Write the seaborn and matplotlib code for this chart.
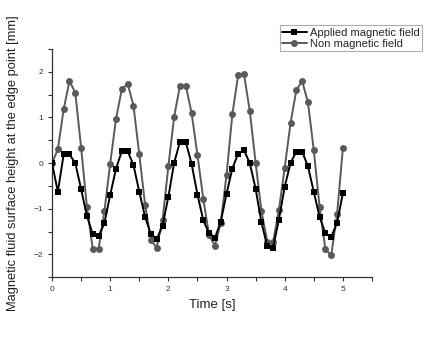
import numpy as np
import pandas as pd
import matplotlib
matplotlib.use('Agg')
import matplotlib.pyplot as plt
import seaborn as sns
from matplotlib.ticker import MultipleLocator

# time samples [s]
time = [0.0, 0.1, 0.2, 0.3, 0.4, 0.5, 0.6, 0.7, 0.8, 0.9,
        1.0, 1.1, 1.2, 1.3, 1.4, 1.5, 1.6, 1.7, 1.8, 1.9,
        2.0, 2.1, 2.2, 2.3, 2.4, 2.5, 2.6, 2.7, 2.8, 2.9,
        3.0, 3.1, 3.2, 3.3, 3.4, 3.5, 3.6, 3.7, 3.8, 3.9,
        4.0, 4.1, 4.2, 4.3, 4.4, 4.5, 4.6, 4.7, 4.8, 4.9, 5.0]

# surface height [mm] with magnetic field applied
applied = [0.0, -0.63, 0.19, 0.19, 0.0, -0.57, -1.16, -1.56, -1.60, -1.32,
           -0.70, -0.12, 0.26, 0.26, -0.04, -0.63, -1.18, -1.56, -1.67, -1.37,
           -0.74, 0.01, 0.47, 0.46, -0.02, -0.69, -1.25, -1.54, -1.64, -1.29,
           -0.67, -0.12, 0.21, 0.28, 0.0, -0.56, -1.30, -1.82, -1.85, -1.24,
           -0.52, 0.0, 0.25, 0.25, -0.07, -0.63, -1.18, -1.54, -1.62, -1.31, -0.66]

# surface height [mm] without magnetic field
non_magnetic = [0.0, 0.30, 1.18, 1.80, 1.54, 0.34, -0.96, -1.88, -1.88, -1.06,
                -0.01, 0.97, 1.62, 1.74, 1.26, 0.19, -0.91, -1.69, -1.85, -1.25,
                -0.07, 1.02, 1.70, 1.70, 1.09, 0.18, -0.78, -1.58, -1.81, -1.31,
                -0.26, 1.07, 1.93, 1.95, 1.14, 0.01, -1.05, -1.72, -1.73, -1.03,
                -0.10, 0.87, 1.60, 1.80, 1.33, 0.28, -0.96, -1.89, -2.02, -1.12, 0.32]

df = pd.DataFrame({'Time': time, 'Applied': applied, 'Non': non_magnetic})

sns.set_style('ticks')
plt.rcParams['font.family'] = ['Liberation Sans', 'DejaVu Sans']

fig = plt.figure(figsize=(4.3, 3.38), dpi=100)
ax = fig.add_axes([0.121, 0.180, 0.744, 0.675])

sns.lineplot(x='Time', y='Applied', data=df, ax=ax, color='black', marker='s',
             markersize=4.5, markeredgewidth=0, linewidth=1.4, label='Applied magnetic field', zorder=3)
sns.lineplot(x='Time', y='Non', data=df, ax=ax, color='#5a5a5a', marker='o',
             markersize=5, markeredgewidth=0, linewidth=1.4, label='Non magnetic field', zorder=2)

ax.set_xlim(0, 5.5)
ax.set_ylim(-2.5, 2.5)
ax.xaxis.set_major_locator(MultipleLocator(1))
ax.xaxis.set_minor_locator(MultipleLocator(0.5))
ax.yaxis.set_major_locator(MultipleLocator(1))
ax.yaxis.set_minor_locator(MultipleLocator(0.5))
ax.tick_params(which='both', direction='out', length=3, width=0.8, labelsize=6, colors='#333333')
for s in ['top', 'right']:
    ax.spines[s].set_visible(False)
for s in ['left', 'bottom']:
    ax.spines[s].set_color('#333333')
    ax.spines[s].set_linewidth(0.9)

ax.set_xlabel('Time [s]', fontsize=9.5, color='#222222')
ax.set_ylabel('Magnetic fluid surface height at the edge point [mm]', fontsize=9.3, color='#222222', labelpad=10)

leg = ax.legend(loc='upper left', bbox_to_anchor=(0.651, 0.925), bbox_transform=fig.transFigure,
                fontsize=8, frameon=True, fancybox=False, handlelength=2.2, handletextpad=0.3,
                borderpad=0.2, labelspacing=0.1, borderaxespad=0)
leg.get_frame().set_edgecolor('#999999')
leg.get_frame().set_linewidth(0.8)

plt.savefig('out.png', dpi=100)
